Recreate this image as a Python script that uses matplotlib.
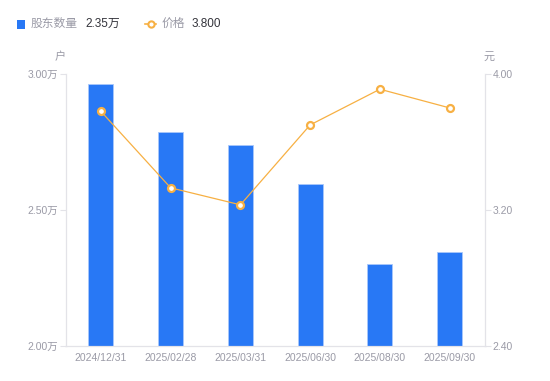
import matplotlib.pyplot as plt
from matplotlib.lines import Line2D

plt.rcParams["font.family"] = ["Liberation Sans", "Noto Sans CJK SC", "DejaVu Sans"]

# 数据：股东数量（万户）与价格（元）
dates = ["2024/12/31", "2025/02/28", "2025/03/31", "2025/06/30", "2025/08/30", "2025/09/30"]
holders = [2.964, 2.787, 2.739, 2.597, 2.300, 2.347]
prices = [3.78, 3.33, 3.23, 3.70, 3.91, 3.80]
left_ticks = [2.00, 2.50, 3.00]
right_ticks = [2.40, 3.20, 4.00]

bar_color = "#2878f5"
line_color = "#f7b043"
axis_color = "#e3e3e8"
label_color = "#9a9aa6"
text_color = "#33333a"

fig = plt.figure(figsize=(5.5, 3.81), dpi=100)
ax1 = fig.add_axes([0.12, 0.092, 0.761, 0.714])
ax2 = ax1.twinx()

x = list(range(len(dates)))
ax1.bar(x, holders, width=0.36, color=bar_color, edgecolor="#a9c8fb", linewidth=0.6, zorder=2)
ax2.plot(
    x,
    prices,
    color=line_color,
    linewidth=0.9,
    marker="o",
    markersize=5,
    markerfacecolor="white",
    markeredgecolor=line_color,
    markeredgewidth=1.6,
    zorder=3,
)

ax1.set_xlim(-0.5, len(dates) - 0.5)
ax1.set_ylim(2.0, 3.0)
ax2.set_ylim(2.4, 4.0)
ax1.set_yticks(left_ticks)
ax1.set_yticklabels([f"{v:.2f}万" for v in left_ticks])
ax2.set_yticks(right_ticks)
ax2.set_yticklabels([f"{v:.2f}" for v in right_ticks])
ax1.set_xticks(x)
ax1.set_xticklabels(dates)

for ax in (ax1, ax2):
    ax.spines["top"].set_visible(False)
    ax.spines["left"].set_color(axis_color)
    ax.spines["right"].set_color(axis_color)
    ax.spines["bottom"].set_color(axis_color)
    ax.tick_params(axis="y", colors=axis_color, labelcolor=label_color, labelsize=7.5, length=4, width=0.8, pad=2)
ax1.tick_params(axis="x", length=0, labelcolor=label_color, labelsize=7.5, pad=5)

ax1.set_zorder(ax2.get_zorder() - 1)
ax2.patch.set_visible(False)

# 坐标轴单位
fig.text(60 / 550, 1 - 57 / 381, "户", color=label_color, fontsize=8, ha="center", va="center")
fig.text(489 / 550, 1 - 57 / 381, "元", color=label_color, fontsize=8, ha="center", va="center")

# 顶部图例
fig.patches.append(
    plt.Rectangle((17 / 550, 1 - 29 / 381), 8 / 550, 9 / 381, transform=fig.transFigure,
                  facecolor=bar_color, edgecolor="none")
)
fig.text(31 / 550, 1 - 24 / 381, "股东数量", color=label_color, fontsize=8.5, va="center")
fig.text(85 / 550, 1 - 24 / 381, f"{holders[-1]:.2f}万", color=text_color, fontsize=8.5, va="center")
fig.lines.append(
    Line2D([145 / 550, 156 / 550], [1 - 24 / 381, 1 - 24 / 381], transform=fig.transFigure,
           color=line_color, linewidth=1.2)
)
fig.lines.append(
    Line2D([150.5 / 550], [1 - 24 / 381], transform=fig.transFigure, color=line_color,
           marker="o", markersize=4.5, markerfacecolor="white", markeredgewidth=1.5)
)
fig.text(162 / 550, 1 - 24 / 381, "价格", color=label_color, fontsize=8.5, va="center")
fig.text(192 / 550, 1 - 24 / 381, f"{prices[-1]:.3f}", color=text_color, fontsize=8.5, va="center")

fig.savefig("out.png", dpi=100)
